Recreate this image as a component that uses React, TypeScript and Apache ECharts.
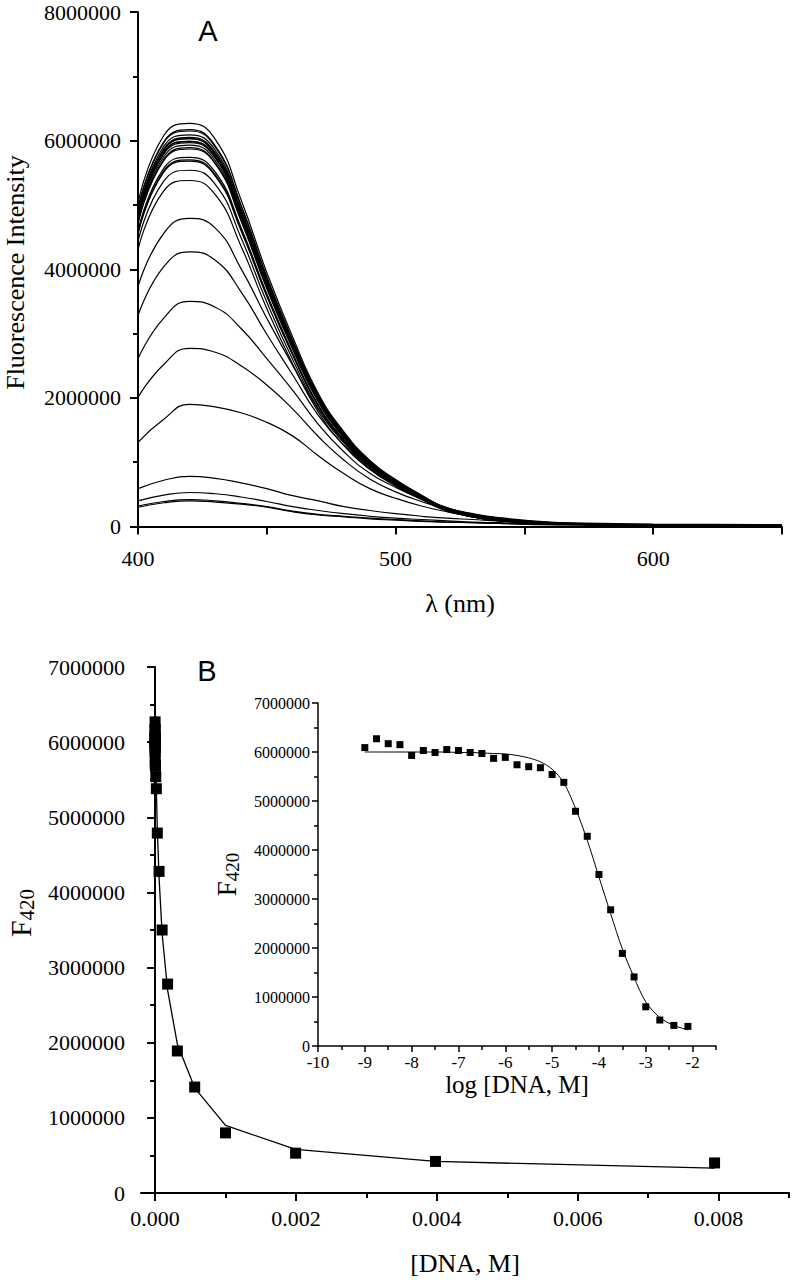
import React, { useEffect, useRef } from "react";
import * as echarts from "echarts";

// ---------- Panel A: emission spectra (intensity in units of 10^4) ----------
const WAVELENGTHS = [400, 410, 420, 430, 440, 450, 460, 470, 480, 490, 500, 510, 520, 530, 540, 560, 580, 600, 650];
const SPECTRA_1E4 = [
  [487, 591, 609, 585, 493, 384, 286, 201, 143, 100, 71, 48, 27, 16, 10, 5, 3, 2, 2],
  [502, 608, 627, 602, 508, 395, 295, 207, 147, 103, 73, 49, 28, 17, 11, 5, 3, 3, 2],
  [494, 598, 617, 592, 500, 389, 290, 204, 145, 102, 72, 48, 28, 17, 10, 5, 3, 2, 2],
  [492, 597, 615, 590, 498, 387, 289, 203, 145, 101, 72, 48, 28, 17, 10, 5, 3, 2, 2],
  [474, 575, 593, 569, 480, 374, 279, 196, 139, 98, 69, 46, 27, 16, 10, 5, 3, 2, 2],
  [482, 585, 603, 579, 488, 380, 283, 199, 142, 99, 71, 47, 27, 16, 10, 5, 3, 2, 2],
  [479, 581, 599, 575, 485, 377, 282, 198, 141, 99, 70, 47, 27, 16, 10, 5, 3, 2, 2],
  [484, 587, 605, 581, 490, 381, 284, 200, 142, 100, 71, 47, 27, 16, 10, 5, 3, 2, 2],
  [483, 586, 603, 578, 487, 379, 283, 199, 141, 99, 70, 47, 27, 16, 10, 5, 3, 2, 2],
  [480, 582, 599, 574, 484, 377, 281, 198, 141, 99, 70, 47, 27, 16, 10, 5, 3, 2, 2],
  [478, 579, 597, 573, 484, 376, 281, 197, 140, 99, 70, 47, 27, 16, 10, 5, 3, 2, 2],
  [470, 569, 587, 564, 475, 370, 276, 194, 138, 97, 69, 46, 26, 16, 10, 5, 3, 2, 2],
  [471, 571, 589, 565, 477, 371, 277, 194, 138, 97, 69, 46, 27, 16, 10, 5, 3, 2, 2],
  [459, 557, 574, 551, 465, 362, 270, 189, 135, 95, 67, 45, 26, 15, 10, 5, 3, 2, 2],
  [456, 553, 570, 547, 462, 359, 268, 188, 134, 94, 67, 44, 26, 15, 10, 5, 3, 2, 2],
  [454, 551, 568, 545, 460, 358, 267, 187, 133, 94, 66, 44, 26, 15, 10, 5, 3, 2, 2],
  [443, 537, 554, 532, 449, 349, 260, 183, 130, 91, 65, 43, 25, 15, 9, 4, 3, 2, 2],
  [430, 522, 538, 516, 436, 339, 253, 178, 126, 89, 63, 42, 24, 15, 9, 4, 3, 2, 2],
  [373, 456, 479, 464, 401, 324, 251, 182, 131, 93, 67, 46, 29, 19, 12, 6, 3, 3, 2],
  [328, 404, 427, 414, 365, 299, 236, 173, 126, 89, 65, 45, 29, 19, 13, 6, 4, 3, 2],
  [261, 324, 350, 341, 308, 261, 212, 159, 116, 83, 61, 43, 29, 20, 14, 7, 4, 3, 2],
  [201, 252, 277, 271, 250, 220, 183, 140, 103, 74, 54, 39, 27, 19, 13, 6, 4, 3, 2],
  [131, 167, 190, 186, 177, 162, 141, 110, 82, 59, 44, 32, 23, 16, 11, 6, 3, 2, 2],
  [59, 72, 78, 75, 68, 59, 48, 40, 31, 25, 20, 16, 13, 11, 9, 6, 5, 4, 3],
  [40, 49, 53, 51, 46, 39, 31, 25, 20, 16, 13, 11, 9, 7, 6, 4, 3, 3, 2],
  [32, 39, 42, 40, 36, 31, 24, 19, 16, 13, 11, 9, 7, 6, 5, 3, 3, 2, 2],
  [30, 37, 40, 38, 35, 30, 23, 18, 15, 12, 10, 8, 7, 6, 5, 3, 2, 2, 2],
];
const A_Y_MAJOR = [0, 200, 400, 600, 800]; // x10^4
const A_Y_MINOR = [100, 300, 500, 700];

// ---------- Panel B: F420 vs DNA ----------
const LOG_DNA = [-9, -8.75, -8.5, -8.25, -8, -7.75, -7.5, -7.25, -7, -6.75, -6.5, -6.25, -6, -5.75, -5.5, -5.25, -5, -4.75, -4.5, -4.25, -4, -3.75, -3.5, -3.25, -3, -2.7, -2.4, -2.1];
const F420 = [6090000, 6270000, 6170000, 6150000, 5930000, 6030000, 5990000, 6050000, 6030000, 5990000, 5970000, 5870000, 5890000, 5740000, 5700000, 5680000, 5540000, 5380000, 4790000, 4280000, 3500000, 2780000, 1890000, 1410000, 800000, 530000, 420000, 400000];
const F420_FIT = [6000000, 6000000, 6000000, 6000000, 6000000, 6000000, 6000000, 6000000, 5990000, 5990000, 5980000, 5970000, 5960000, 5930000, 5880000, 5800000, 5650000, 5370000, 4850000, 4200000, 3450000, 2700000, 1980000, 1400000, 900000, 580000, 420000, 330000];
const B_X_MAJOR = [0, 0.002, 0.004, 0.006, 0.008];
const B_X_MINOR = [0.001, 0.003, 0.005, 0.007, 0.009];
const INSET_X_MAJOR = [-10, -9, -8, -7, -6, -5, -4, -3, -2];
const INSET_X_MINOR = [-9.5, -8.5, -7.5, -6.5, -5.5, -4.5, -3.5, -2.5, -1.5];

const SERIF = "Liberation Serif";
const SANS = "Liberation Sans";
const BLACK = "#000";

const GRID_A = { left: 138, top: 12, width: 644, height: 521 };
const GRID_B = { left: 141, top: 667, width: 648, height: 526 };
const GRID_IN = { left: 318, top: 703, width: 398, height: 343 };

export default function App() {
  const ref = useRef<HTMLDivElement>(null);

  useEffect(() => {
    if (!ref.current) return;
    const chart = echarts.init(ref.current, undefined, { renderer: "svg" });

    const line = (w: number) => ({ show: true, lineStyle: { color: BLACK, width: w } });
    const noSplit = { show: false };
    const hidden = (grid: number) => ({ type: "value", gridIndex: grid, show: false, min: 0, max: 1 });
    const lbl = (size: number, margin: number, fmt: (v: number) => string, extra: any = {}) => ({
      margin,
      color: BLACK,
      fontSize: size,
      fontFamily: SERIF,
      formatter: (v: number) => {
        const s = fmt(v);
        return s === "" ? "" : "{t|" + s + "}";
      },
      rich: { t: { fontFamily: SERIF, fontSize: size, color: BLACK } },
      ...extra,
    });
    const plain = (v: number) => String(Math.round(v));

    const spectraSeries = SPECTRA_1E4.map((row) => ({
      type: "line",
      xAxisIndex: 0,
      yAxisIndex: 0,
      data: WAVELENGTHS.map((w, i) => [w, row[i]]),
      showSymbol: false,
      smooth: 0.5,
      lineStyle: { color: BLACK, width: 1.2 },
      silent: true,
    }));

    const option: any = {
      animation: false,
      backgroundColor: "#fff",
      textStyle: { fontFamily: SERIF, color: BLACK },
      grid: [
        { ...GRID_A, outerBoundsMode: "none" },
        { ...GRID_A, outerBoundsMode: "none" },
        { ...GRID_B, outerBoundsMode: "none" },
        { ...GRID_B, outerBoundsMode: "none" },
        { ...GRID_IN, outerBoundsMode: "none" },
        { ...GRID_IN, outerBoundsMode: "none" },
      ],
      xAxis: [
        {
          type: "value", gridIndex: 0, min: 400, max: 650, interval: 50,
          axisLine: line(2),
          axisTick: { show: true, length: 8, lineStyle: { color: BLACK, width: 2 } },
          axisLabel: lbl(22, 14, (v) => (v % 100 === 0 ? String(v) : "")),
          splitLine: noSplit,
          name: "λ (nm)", nameLocation: "middle", nameGap: 57,
          nameTextStyle: { color: BLACK, fontSize: 26, fontFamily: SERIF },
        },
        hidden(1),
        {
          type: "value", gridIndex: 2, min: -0.0002, max: 0.009,
          axisLine: line(2),
          axisTick: { show: true, length: 8, customValues: B_X_MAJOR, lineStyle: { color: BLACK, width: 2 } },
          axisLabel: lbl(22, 14, (v) => v.toFixed(3), { customValues: B_X_MAJOR }),
          splitLine: noSplit,
          name: "[DNA, M]", nameLocation: "middle", nameGap: 57,
          nameTextStyle: { color: BLACK, fontSize: 26, fontFamily: SERIF },
        },
        {
          type: "value", gridIndex: 3, min: -0.0002, max: 0.009,
          axisLine: { show: false },
          axisTick: { show: true, length: 5, customValues: B_X_MINOR, lineStyle: { color: BLACK, width: 2 } },
          axisLabel: { show: false },
          splitLine: noSplit,
        },
        {
          type: "value", gridIndex: 4, min: -10, max: -1.5,
          axisLine: line(1.5),
          axisTick: { show: true, length: 6, customValues: INSET_X_MAJOR, lineStyle: { color: BLACK, width: 1.5 } },
          axisLabel: lbl(17, 8, plain, { customValues: INSET_X_MAJOR }),
          splitLine: noSplit,
          name: "log [DNA, M]", nameLocation: "middle", nameGap: 26,
          nameTextStyle: { color: BLACK, fontSize: 25, fontFamily: SERIF },
        },
        {
          type: "value", gridIndex: 5, min: -10, max: -1.5,
          axisLine: { show: false },
          axisTick: { show: true, length: 4, customValues: INSET_X_MINOR, lineStyle: { color: BLACK, width: 1.5 } },
          axisLabel: { show: false },
          splitLine: noSplit,
        },
      ],
      yAxis: [
        {
          type: "value", gridIndex: 0, min: -10, max: 800,
          axisLine: line(2),
          axisTick: { show: true, length: 8, customValues: A_Y_MAJOR, lineStyle: { color: BLACK, width: 2 } },
          axisLabel: lbl(22, 17, (v) => String(Math.round(v * 10000)), { customValues: A_Y_MAJOR }),
          splitLine: noSplit,
          name: "Fluorescence Intensity", nameLocation: "middle", nameGap: 110,
          nameTextStyle: { color: BLACK, fontSize: 26, fontFamily: SERIF },
        },
        {
          type: "value", gridIndex: 1, min: -10, max: 800,
          axisLine: { show: false },
          axisTick: { show: true, length: 5, customValues: A_Y_MINOR, lineStyle: { color: BLACK, width: 2 } },
          axisLabel: { show: false },
          splitLine: noSplit,
        },
        {
          type: "value", gridIndex: 2, min: 0, max: 7000000, interval: 1000000,
          axisLine: line(2),
          axisTick: { show: true, length: 8, lineStyle: { color: BLACK, width: 2 } },
          minorTick: { show: true, splitNumber: 2, length: 5, lineStyle: { color: BLACK, width: 2 } },
          axisLabel: lbl(22, 16, plain),
          splitLine: noSplit,
          minorSplitLine: noSplit,
          name: "{f|F}{s|420}", nameLocation: "middle", nameGap: 100,
          nameTextStyle: {
            color: BLACK, fontFamily: SERIF, padding: [0, 0, 0, 34],
            rich: {
              f: { fontSize: 30, fontFamily: SERIF, color: BLACK, lineHeight: 34 },
              s: { fontSize: 21, fontFamily: SERIF, color: BLACK, lineHeight: 16, verticalAlign: "bottom" },
            },
          },
        },
        hidden(3),
        {
          type: "value", gridIndex: 4, min: 0, max: 7000000, interval: 1000000,
          axisLine: line(1.5),
          axisTick: { show: true, length: 6, lineStyle: { color: BLACK, width: 1.5 } },
          minorTick: { show: true, splitNumber: 2, length: 4, lineStyle: { color: BLACK, width: 1.5 } },
          axisLabel: lbl(16, 8, plain),
          splitLine: noSplit,
          minorSplitLine: noSplit,
          name: "{f|F}{s|420}", nameLocation: "middle", nameGap: 76,
          nameTextStyle: {
            color: BLACK, fontFamily: SERIF,
            rich: {
              f: { fontSize: 27, fontFamily: SERIF, color: BLACK, lineHeight: 30 },
              s: { fontSize: 19, fontFamily: SERIF, color: BLACK, lineHeight: 14, verticalAlign: "bottom" },
            },
          },
        },
        hidden(5),
      ],
      series: [
        ...spectraSeries,
        {
          type: "line",
          xAxisIndex: 2, yAxisIndex: 2,
          data: LOG_DNA.map((l, i) => [Math.pow(10, l), F420_FIT[i]]),
          showSymbol: false,
          lineStyle: { color: BLACK, width: 1.3 },
          silent: true,
        },
        {
          type: "scatter",
          xAxisIndex: 2, yAxisIndex: 2,
          data: LOG_DNA.map((l, i) => [Math.pow(10, l), F420[i]]),
          symbol: "rect", symbolSize: 11,
          itemStyle: { color: BLACK, opacity: 1 },
          silent: true,
        },
        {
          type: "line",
          xAxisIndex: 4, yAxisIndex: 4,
          data: LOG_DNA.map((l, i) => [l, F420_FIT[i]]),
          showSymbol: false,
          smooth: 0.3,
          lineStyle: { color: BLACK, width: 1 },
          silent: true,
        },
        {
          type: "scatter",
          xAxisIndex: 4, yAxisIndex: 4,
          data: LOG_DNA.map((l, i) => [l, F420[i]]),
          symbol: "rect", symbolSize: 7,
          itemStyle: { color: BLACK, opacity: 1 },
          silent: true,
        },
      ],
      graphic: [
        {
          type: "text", x: 208, y: 31,
          style: { text: "A", fontSize: 29, fontFamily: SANS, fill: BLACK, align: "center", verticalAlign: "middle" },
        },
        {
          type: "text", x: 207, y: 671,
          style: { text: "B", fontSize: 29, fontFamily: SANS, fill: BLACK, align: "center", verticalAlign: "middle" },
        },
      ],
    };

    chart.setOption(option);
    return () => chart.dispose();
  }, []);

  return (
    <div
      ref={ref}
      style={{ position: "absolute", left: 0, top: 0, width: 793, height: 1280, background: "#fff" }}
    />
  );
}
